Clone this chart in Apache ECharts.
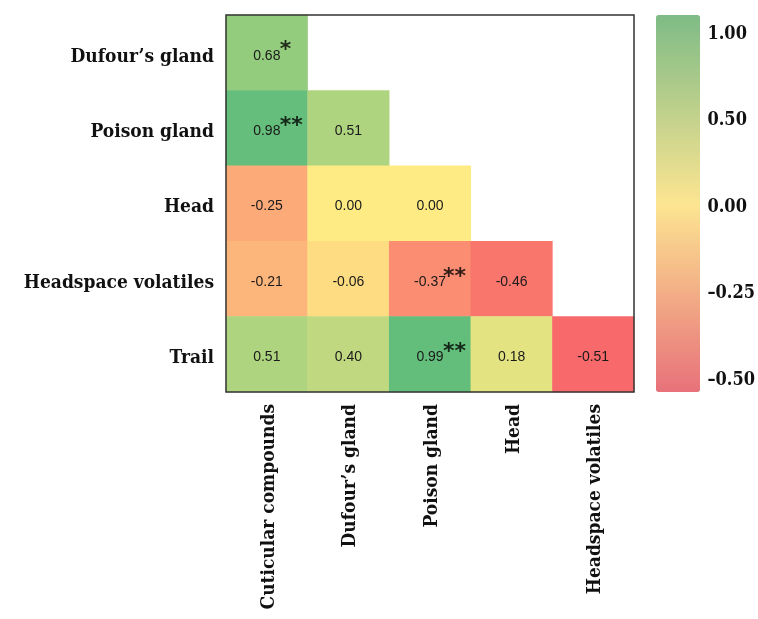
<!DOCTYPE html>
<html>
<head>
<meta charset="utf-8">
<script src="https://cdn.jsdelivr.net/npm/echarts@6/dist/echarts.min.js"></script>
<style>html,body{margin:0;padding:0;background:#fff;}#c{width:758px;height:619px;}</style>
</head>
<body>
<div id="c"></div>
<script>
// Categories
const xCategories = ['Cuticular compounds', 'Dufour\u2019s gland', 'Poison gland', 'Head', 'Headspace volatiles'];
const yCategories = ['Dufour\u2019s gland', 'Poison gland', 'Head', 'Headspace volatiles', 'Trail'];
// Correlation values, one array per row (lower triangle)
const rowDufour = [0.68];
const rowPoison = [0.98, 0.51];
const rowHead = [-0.25, 0.00, 0.00];
const rowHeadspace = [-0.21, -0.06, -0.37, -0.46];
const rowTrail = [0.51, 0.40, 0.99, 0.18, -0.51];
// Significance marks
const sigDufour = ['*'];
const sigPoison = ['**', ''];
const sigHead = ['', '', ''];
const sigHeadspace = ['', '', '**', ''];
const sigTrail = ['', '', '**', '', ''];
// Colour bar tick labels
const colorbarTicks = [-0.50, -0.25, 0.00, 0.50, 1.00];
const colorbarMin = -0.5, colorbarMax = 1.0;

const rows = [rowDufour, rowPoison, rowHead, rowHeadspace, rowTrail];
const sigs = [sigDufour, sigPoison, sigHead, sigHeadspace, sigTrail];
let all = [];
rows.forEach(r => all = all.concat(r));
const vMin = Math.min(...all), vMax = Math.max(...all);

const cellData = [];
const starData = [];
rows.forEach((r, yi) => {
  r.forEach((v, xi) => {
    const scaled = v >= 0 ? v / vMax : -v / vMin;
    cellData.push([xi, yi, v, scaled]);
    if (sigs[yi][xi]) starData.push([xi, yi, sigs[yi][xi]]);
  });
});

const toPos = v => v >= 0 ? v / colorbarMax : -v / colorbarMin;
const fromPos = p => p >= 0 ? p * colorbarMax : -p * colorbarMin;
const tickPos = colorbarTicks.map(toPos);

const axisFont = "'DejaVu Serif Condensed', 'DejaVu Serif', serif";

const chart = echarts.init(document.getElementById('c'));
chart.setOption({
  animation: false,
  backgroundColor: '#fff',
  grid: [
    { left: 226, top: 15, width: 408, height: 377, show: true, borderColor: '#333', borderWidth: 1.5, backgroundColor: 'transparent', z: 5 },
    { left: 656, top: 15, width: 44, height: 377, show: false }
  ],
  xAxis: [
    {
      type: 'category', data: xCategories, gridIndex: 0,
      axisLine: { show: false }, axisTick: { show: false }, splitLine: { show: false },
      axisLabel: { rotate: 90, margin: 12, verticalAlign: 'top', lineHeight: 4, color: '#111', fontFamily: axisFont, fontWeight: 'bold', fontSize: 19, interval: 0 }
    },
    { type: 'value', gridIndex: 1, show: false, min: 0, max: 1 }
  ],
  yAxis: [
    {
      type: 'category', data: yCategories, inverse: true, gridIndex: 0,
      axisLine: { show: false }, axisTick: { show: false }, splitLine: { show: false },
      axisLabel: { margin: 12, verticalAlign: 'top', lineHeight: 8, color: '#111', fontFamily: axisFont, fontWeight: 'bold', fontSize: 19, interval: 0 }
    },
    {
      type: 'value', gridIndex: 1, position: 'right', min: -1.08, max: 1.10,
      axisLine: { show: false }, axisTick: { show: false }, splitLine: { show: false },
      axisLabel: {
        customValues: tickPos, margin: 24, verticalAlign: 'top', lineHeight: 4, color: '#111', fontFamily: axisFont, fontWeight: 'bold', fontSize: 18,
        formatter: p => fromPos(p).toFixed(2).replace('-', '\u2013')
      }
    }
  ],
  visualMap: [
    {
      type: 'continuous', show: false, seriesIndex: 0, dimension: 3, min: -1, max: 1,
      inRange: { color: ['#F8696B', '#FFEB84', '#63BE7B'] }
    },
    {
      type: 'continuous', show: true, seriesIndex: 1, dimension: 0, min: -1.08, max: 1.10,
      left: 656, top: 15, itemWidth: 44, itemHeight: 377, padding: 0, calculable: false,
      text: null, showLabel: false,
      inRange: { color: ['#e8717a', '#fce591', '#7ebb86'] }
    }
  ],
  series: [
    {
      type: 'heatmap', xAxisIndex: 0, yAxisIndex: 0, data: cellData,
      encode: { x: 0, y: 1 },
      label: {
        show: true, color: '#1a1a1a', fontFamily: "'Liberation Sans', Arial, sans-serif", fontSize: 14,
        offset: [0, 3],
        formatter: p => p.value[2].toFixed(2)
      },
      itemStyle: { borderWidth: 0 },
      emphasis: { disabled: true }
    },
    {
      type: 'scatter', xAxisIndex: 0, yAxisIndex: 0, data: starData, symbolSize: 0,
      encode: { x: 0, y: 1 },
      label: {
        show: true, position: 'inside', align: 'left', offset: [13, -2],
        color: '#000', fontFamily: "'DejaVu Sans', sans-serif", fontWeight: 'bold', fontSize: 22,
        formatter: p => p.value[2]
      },
      z: 10
    }
  ]
});
</script>
</body>
</html>
